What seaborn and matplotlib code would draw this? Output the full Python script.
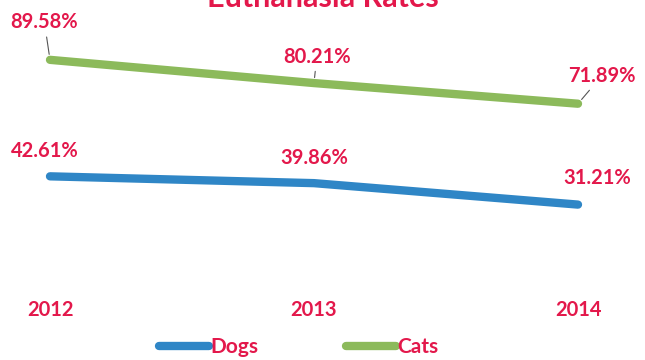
import matplotlib
matplotlib.use("Agg")
import matplotlib.pyplot as plt
import seaborn as sns
import pandas as pd

years = ["2012", "2013", "2014"]
dogs = [42.61, 39.86, 31.21]
cats = [89.58, 80.21, 71.89]
series = ["Dogs", "Cats"]
title = "Euthanasia Rates"

RED = "#e3184b"
BLUE = "#2f86c6"
GREEN = "#8cba5b"

sns.set_theme(style="white")
plt.rcParams["font.family"] = ["Lato", "DejaVu Sans"]

df = pd.DataFrame({
    "Year": list(range(len(years))) * 2,
    "Rate": dogs + cats,
    "Species": [series[0]] * len(years) + [series[1]] * len(years),
})

fig = plt.figure(figsize=(6.45, 3.6), dpi=100)
ax = fig.add_axes([50 / 645, 1 - 282 / 360, 528 / 645, 248 / 360])
sns.lineplot(data=df, x="Year", y="Rate", hue="Species",
             palette={"Dogs": BLUE, "Cats": GREEN}, linewidth=6,
             ax=ax, legend=True, solid_capstyle="round", sort=False)
for ln in ax.lines:
    ln.set_clip_on(False)
ax.set_xlim(0, 2)
ax.set_ylim(0, 100)
ax.set_xlabel("")
ax.set_ylabel("")
ax.set_yticks([])
ax.set_xticks(range(len(years)))
ax.set_xticklabels(years, color=RED, fontsize=14.5, fontweight="bold")
ax.tick_params(axis="x", length=0, pad=13)
for s in ax.spines.values():
    s.set_visible(False)

cat_off = [(-4, 27), (2, 19), (17, 20)]
dog_off = [(-4, 18), (0, 18), (14, 19)]
for i, v in enumerate(cats):
    ax.annotate(f"{v:.2f}%", xy=(i, v), xytext=cat_off[i], textcoords="offset points",
                ha="center", va="center", color=RED, fontsize=14.5, fontweight="bold",
                arrowprops=dict(arrowstyle="-", color="#555555", lw=0.8, shrinkA=1, shrinkB=4),
                annotation_clip=False)
for i, v in enumerate(dogs):
    ax.annotate(f"{v:.2f}%", xy=(i, v), xytext=dog_off[i], textcoords="offset points",
                ha="center", va="center", color=RED, fontsize=14.5, fontweight="bold",
                annotation_clip=False)

handles, labels = ax.get_legend_handles_labels()
ax.get_legend().remove()
for h in handles:
    h.set_solid_capstyle("round")
leg = fig.legend(handles, labels, loc="center", bbox_to_anchor=(0.463, 1 - 347 / 360),
                 ncol=2, frameon=False, handlelength=2.4, handletextpad=0.05,
                 columnspacing=4.2, prop={"weight": "bold", "size": 15})
for t in leg.get_texts():
    t.set_color(RED)

fig.text(0.5, 1 - 7 / 360, title, ha="center", va="baseline", color=RED,
         fontsize=22, fontweight="bold")

fig.savefig("out.png", dpi=100)
